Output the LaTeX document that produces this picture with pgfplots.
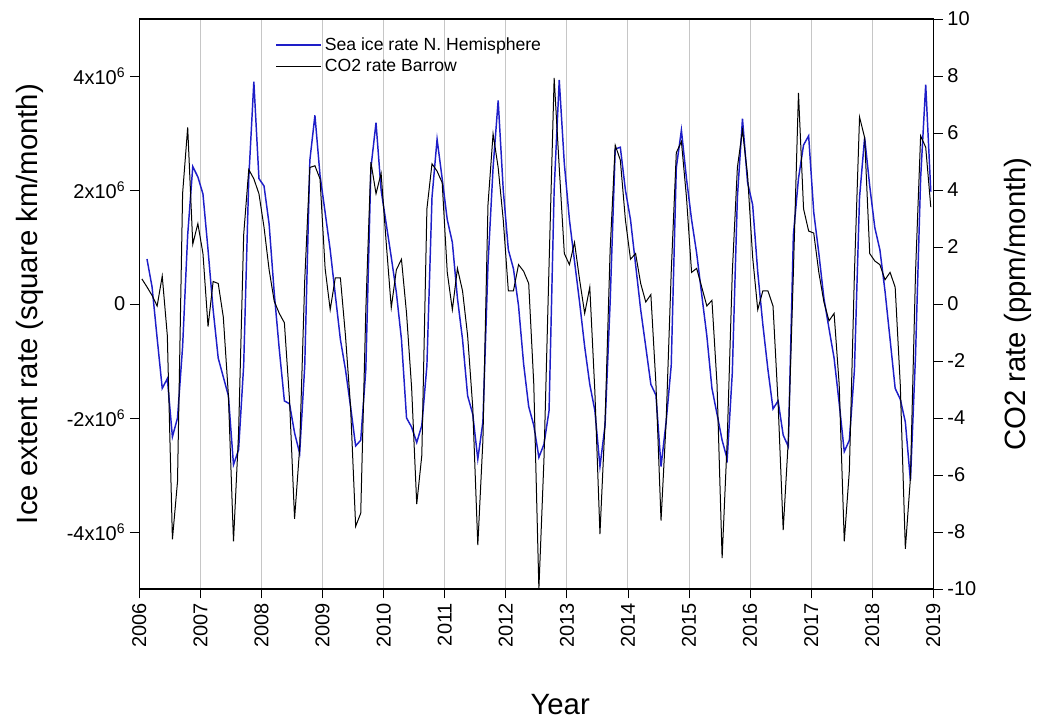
\documentclass[border=0pt]{standalone}
\usepackage{fontspec}
\setmainfont{Liberation Sans}
\usepackage{pgfplots}
\usepackage{pgfplotstable}
\pgfplotsset{compat=1.18}
\definecolor{iceblue}{RGB}{30,30,200}

% sea ice rate, Northern Hemisphere (millions of km^2 per month); x = months since Jan 2006 (mid-month)
\pgfplotstableread[row sep=\\]{
x y\\
1.5 0.79\\ 2.5 0.3\\ 3.5 -0.6\\ 4.5 -1.48\\ 5.5 -1.31\\ 6.5 -2.33\\ 7.5 -2.0\\ 8.5 -0.75\\ 9.5 1.21\\ 10.5 2.41\\ 11.5 2.23\\
12.5 1.93\\ 13.5 0.95\\ 14.5 -0.1\\ 15.5 -0.95\\ 16.5 -1.28\\ 17.5 -1.61\\ 18.5 -2.82\\ 19.5 -2.56\\ 20.5 -1.08\\ 21.5 2.2\\ 22.5 3.9\\ 23.5 2.2\\
24.5 2.07\\ 25.5 1.4\\ 26.5 0.2\\ 27.5 -0.8\\ 28.5 -1.7\\ 29.5 -1.75\\ 30.5 -2.26\\ 31.5 -2.62\\ 32.5 -1.08\\ 33.5 2.52\\ 34.5 3.31\\ 35.5 2.26\\
36.5 1.61\\ 37.5 0.95\\ 38.5 0.16\\ 39.5 -0.62\\ 40.5 -1.15\\ 41.5 -1.8\\ 42.5 -2.49\\ 43.5 -2.39\\ 44.5 -1.15\\ 45.5 2.39\\ 46.5 3.18\\ 47.5 2.0\\
48.5 1.41\\ 49.5 0.82\\ 50.5 0.2\\ 51.5 -0.62\\ 52.5 -2.0\\ 53.5 -2.16\\ 54.5 -2.43\\ 55.5 -2.13\\ 56.5 -1.08\\ 57.5 1.87\\ 58.5 2.89\\ 59.5 2.2\\
60.5 1.48\\ 61.5 1.08\\ 62.5 0.1\\ 63.5 -0.62\\ 64.5 -1.61\\ 65.5 -1.93\\ 66.5 -2.72\\ 67.5 -2.07\\ 68.5 0.69\\ 69.5 2.39\\ 70.5 3.57\\ 71.5 2.0\\
72.5 0.95\\ 73.5 0.62\\ 74.5 -0.03\\ 75.5 -1.05\\ 76.5 -1.8\\ 77.5 -2.13\\ 78.5 -2.69\\ 79.5 -2.46\\ 80.5 -1.87\\ 81.5 2.0\\ 82.5 3.93\\ 83.5 2.46\\
84.5 1.48\\ 85.5 0.75\\ 86.5 0.03\\ 87.5 -0.75\\ 88.5 -1.41\\ 89.5 -1.87\\ 90.5 -2.85\\ 91.5 -2.13\\ 92.5 0.03\\ 93.5 2.72\\ 94.5 2.75\\ 95.5 2.0\\
96.5 1.48\\ 97.5 0.69\\ 98.5 -0.1\\ 99.5 -0.75\\ 100.5 -1.41\\ 101.5 -1.6\\ 102.5 -2.85\\ 103.5 -2.07\\ 104.5 -1.08\\ 105.5 2.39\\ 106.5 3.05\\ 107.5 2.2\\
108.5 1.48\\ 109.5 0.89\\ 110.5 0.16\\ 111.5 -0.56\\ 112.5 -1.48\\ 113.5 -1.93\\ 114.5 -2.39\\ 115.5 -2.72\\ 116.5 -1.21\\ 117.5 1.87\\ 118.5 3.25\\ 119.5 2.13\\
120.5 1.74\\ 121.5 0.56\\ 122.5 -0.36\\ 123.5 -1.15\\ 124.5 -1.84\\ 125.5 -1.7\\ 126.5 -2.3\\ 127.5 -2.5\\ 128.5 1.21\\ 129.5 2.2\\ 130.5 2.79\\ 131.5 2.95\\
132.5 1.61\\ 133.5 0.89\\ 134.5 0.1\\ 135.5 -0.43\\ 136.5 -0.95\\ 137.5 -1.74\\ 138.5 -2.59\\ 139.5 -2.39\\ 140.5 -1.15\\ 141.5 1.87\\ 142.5 2.92\\ 143.5 2.07\\
144.5 1.34\\ 145.5 0.95\\ 146.5 0.23\\ 147.5 -0.62\\ 148.5 -1.48\\ 149.5 -1.67\\ 150.5 -2.07\\ 151.5 -3.1\\ 152.5 -0.9\\ 153.5 2.2\\ 154.5 3.85\\ 155.5 1.97\\
}\icetable

% CO2 rate at Barrow (ppm per month)
\pgfplotstableread[row sep=\\]{
x y\\
0.5 0.88\\ 1.5 0.6\\ 2.5 0.3\\ 3.5 -0.07\\ 4.5 0.98\\ 5.5 -1.11\\ 6.5 -8.26\\ 7.5 -6.23\\ 8.5 3.87\\ 9.5 6.2\\ 10.5 2.1\\ 11.5 2.82\\
12.5 1.77\\ 13.5 -0.79\\ 14.5 0.79\\ 15.5 0.72\\ 16.5 -0.46\\ 17.5 -3.21\\ 18.5 -8.33\\ 19.5 -4.52\\ 20.5 2.43\\ 21.5 4.72\\ 22.5 4.39\\ 23.5 3.87\\
24.5 2.69\\ 25.5 1.2\\ 26.5 0.1\\ 27.5 -0.33\\ 28.5 -0.66\\ 29.5 -3.34\\ 30.5 -7.54\\ 31.5 -5.05\\ 32.5 0.85\\ 33.5 4.79\\ 34.5 4.85\\ 35.5 4.39\\
36.5 1.25\\ 37.5 -0.2\\ 38.5 0.92\\ 39.5 0.92\\ 40.5 -1.11\\ 41.5 -3.61\\ 42.5 -7.8\\ 43.5 -7.34\\ 44.5 -0.2\\ 45.5 4.98\\ 46.5 3.87\\ 47.5 4.59\\
48.5 2.16\\ 49.5 -0.13\\ 50.5 1.2\\ 51.5 1.57\\ 52.5 -0.33\\ 53.5 -2.95\\ 54.5 -7.02\\ 55.5 -5.31\\ 56.5 3.34\\ 57.5 4.92\\ 58.5 4.66\\ 59.5 4.26\\
60.5 1.11\\ 61.5 -0.2\\ 62.5 1.25\\ 63.5 0.46\\ 64.5 -1.11\\ 65.5 -3.61\\ 66.5 -8.46\\ 67.5 -4.79\\ 68.5 3.48\\ 69.5 5.97\\ 70.5 4.79\\ 71.5 2.95\\
72.5 0.46\\ 73.5 0.46\\ 74.5 1.38\\ 75.5 1.15\\ 76.5 0.72\\ 77.5 -2.82\\ 78.5 -10.0\\ 79.5 -5.44\\ 80.5 1.38\\ 81.5 7.93\\ 82.5 4.79\\ 83.5 1.77\\
84.5 1.38\\ 85.5 2.16\\ 86.5 0.85\\ 87.5 -0.33\\ 88.5 0.59\\ 89.5 -3.08\\ 90.5 -8.07\\ 91.5 -4.13\\ 92.5 1.9\\ 93.5 5.57\\ 94.5 5.05\\ 95.5 2.95\\
96.5 1.57\\ 97.5 1.77\\ 98.5 0.72\\ 99.5 0.07\\ 100.5 0.33\\ 101.5 -2.82\\ 102.5 -7.6\\ 103.5 -4.13\\ 104.5 1.11\\ 105.5 5.31\\ 106.5 5.7\\ 107.5 3.74\\
108.5 1.11\\ 109.5 1.25\\ 110.5 0.59\\ 111.5 -0.07\\ 112.5 0.13\\ 113.5 -2.82\\ 114.5 -8.92\\ 115.5 -4.79\\ 116.5 1.11\\ 117.5 4.79\\ 118.5 6.1\\ 119.5 4.52\\
120.5 1.64\\ 121.5 -0.2\\ 122.5 0.46\\ 123.5 0.46\\ 124.5 -0.07\\ 125.5 -3.48\\ 126.5 -7.93\\ 127.5 -4.79\\ 128.5 1.11\\ 129.5 7.41\\ 130.5 3.34\\ 131.5 2.56\\
132.5 2.49\\ 133.5 1.11\\ 134.5 0.07\\ 135.5 -0.59\\ 136.5 -0.33\\ 137.5 -2.82\\ 138.5 -8.33\\ 139.5 -5.84\\ 140.5 1.11\\ 141.5 6.56\\ 142.5 5.84\\ 143.5 1.77\\
144.5 1.51\\ 145.5 1.38\\ 146.5 0.85\\ 147.5 1.11\\ 148.5 0.59\\ 149.5 -2.82\\ 150.5 -8.59\\ 151.5 -6.1\\ 152.5 1.11\\ 153.5 5.9\\ 154.5 5.5\\ 155.5 3.4\\
}\cotable

\begin{document}
\begin{tikzpicture}
\pgfplotsset{
  every axis/.append style={
    scale only axis, width=595.5pt, height=427.5pt,
    xmin=0, xmax=156,
    tick align=outside,
    major tick length=7pt,
    tick style={black, line width=0.6pt},
    axis line style={line width=0.8pt},
    tick label style={font=\fontsize{15}{18}\selectfont},
  }
}
\begin{axis}[
  ymin=-5, ymax=5,
  axis lines=box,
  xtick={0,12,...,156},
  xticklabels={2006,2007,2008,2009,2010,2011,2012,2013,2014,2015,2016,2017,2018,2019},
  xtick pos=bottom,
  x tick label style={rotate=90, anchor=east},
  xmajorgrids,
  grid style={gray!45, line width=0.7pt},
  ytick={-4,-2,0,2,4},
  yticklabels={-4x10\textsuperscript{6},-2x10\textsuperscript{6},0,2x10\textsuperscript{6},4x10\textsuperscript{6}},
  ytick pos=left,
  xlabel={Year},
  xlabel style={at={(axis description cs:0.53,-0.2035)}, anchor=center, font=\fontsize{22}{26}\selectfont},
  ylabel={Ice extent rate (square km/month)},
  ylabel style={at={(axis description cs:-0.1377,0.5)}, anchor=center, font=\fontsize{22}{26}\selectfont},
  legend style={at={(axis description cs:0.166,0.977)}, anchor=north west,
    draw=none, fill=none, font=\fontsize{13.2}{15}\selectfont,
    row sep=1pt},
  legend cell align=left,
  legend image code/.code={\draw[mark repeat=2,mark phase=2,#1] plot coordinates {(0pt,0pt) (17pt,0pt) (34pt,0pt)};},
]
\addplot[iceblue, line width=1.1pt] table[x=x, y=y] {\icetable};
\addlegendentry{Sea ice rate N. Hemisphere}
\addlegendimage{black, line width=0.75pt}
\addlegendentry{CO2 rate Barrow}
\end{axis}
\begin{axis}[
  ymin=-10, ymax=10,
  axis x line=none,
  axis y line*=right,
  ytick={-10,-8,...,10},
  yticklabels={-10,-8,-6,-4,-2,0,2,4,6,8,10},
  ylabel={CO2 rate (ppm/month)},
  ylabel style={at={(axis description cs:1.107,0.5)}, anchor=center, font=\fontsize{22}{26}\selectfont},
]
\addplot[black, line width=0.75pt] table[x=x, y=y] {\cotable};
\end{axis}
\path[use as bounding box] (-104.5pt,-99.75pt) rectangle (673.25pt,441.75pt);
\end{tikzpicture}
\end{document}
